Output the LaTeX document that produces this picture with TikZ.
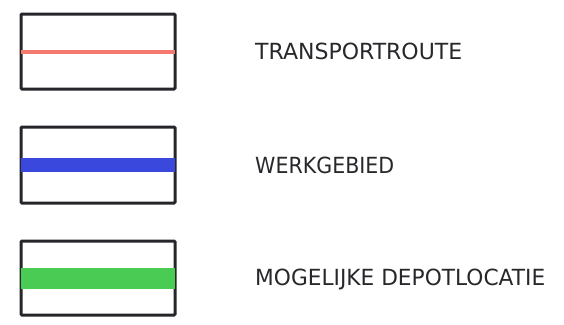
\documentclass[tikz,border=0pt]{standalone}
\usepackage{fontspec}
\setmainfont{DejaVu Sans}
\definecolor{routered}{RGB}{244,122,112}
\definecolor{workblue}{RGB}{58,72,222}
\definecolor{depotgreen}{RGB}{74,204,84}
\definecolor{frame}{RGB}{38,38,42}
\definecolor{labeltext}{RGB}{40,40,44}
\tikzset{
  legendbox/.style={draw=frame, line width=3pt, rounded corners=1pt, minimum width=154pt, inner sep=0pt},
  legendlabel/.style={anchor=west, inner sep=0pt, text=labeltext},
}
\begin{document}
\begin{tikzpicture}[x=1pt,y=-1pt]
\useasboundingbox (0,0) rectangle (564,324);
% boxes
\node[legendbox, minimum height=75pt] (b1) at (98,51.5) {};
\node[legendbox, minimum height=76pt] (b2) at (98,165) {};
\node[legendbox, minimum height=74pt] (b3) at (98,278) {};
% sample lines
\draw[routered, line width=4pt] ([xshift=1.5pt,yshift=-0.5pt]b1.west) -- ([xshift=-1.5pt,yshift=-0.5pt]b1.east);
\draw[workblue, line width=14pt] ([xshift=1.5pt]b2.west) -- ([xshift=-1.5pt]b2.east);
\draw[depotgreen, line width=21pt] ([xshift=1.5pt]b3.west) -- ([xshift=-1.5pt]b3.east);
% labels
\node[legendlabel] (t1) at (255,51.5) {\resizebox{207pt}{16.5pt}{TRANSPORTROUTE}};
\node[legendlabel] (t2) at (255,165) {\resizebox{139pt}{16.5pt}{WERKGEBIED}};
\node[legendlabel] (t3) at (255,279.5) {\resizebox{290pt}{16.5pt}{MOGELIJKE DEPOTLOCATIE}};
\end{tikzpicture}
\end{document}
